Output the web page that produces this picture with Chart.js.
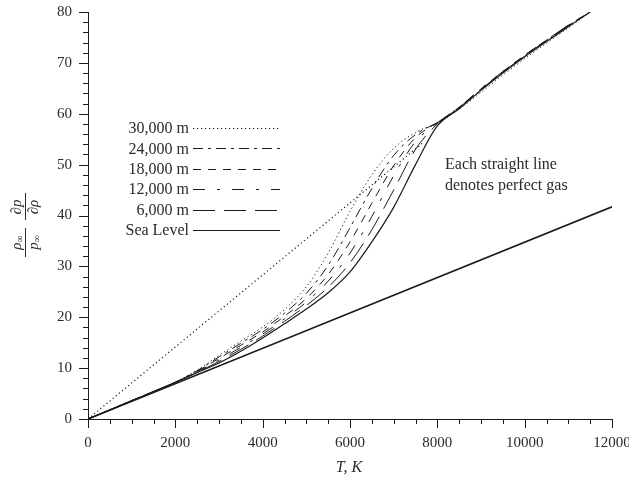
<!DOCTYPE html>
<html>
<head>
<meta charset="utf-8">
<script src="https://cdn.jsdelivr.net/npm/chart.js@4.4.1/dist/chart.umd.min.js"></script>
<style>
  body { margin: 0; background: #fff; }
  canvas { display: block; }
</style>
</head>
<body>
<canvas id="grafik" width="629" height="480"></canvas>
<script>
// temperatures (K) shared by the real-gas curves
const suhu = [0, 1000, 2000, 2500, 3000, 3500, 4000, 4500, 5000, 5500, 6000, 6500, 7000, 7500, 8000, 8500, 9000, 9500, 10000, 10500, 11000, 11500];

// (rho_inf / p_inf) dp/drho for each altitude
const alt30k = [0, 3.6, 7.3, 9.6, 12.5, 15.3, 18.1, 21.5, 26.0, 32.6, 40.8, 48.0, 53.2, 56.3, 58.2, 60.9, 64.2, 67.6, 70.8, 73.9, 76.9, 80.0];
const alt24k = [0, 3.6, 7.2, 9.5, 12.2, 14.9, 17.6, 20.8, 24.7, 30.2, 37.6, 45.3, 51.8, 55.9, 58.3, 61.2, 64.7, 68.1, 71.3, 74.3, 77.3, 80.0];
const alt18k = [0, 3.6, 7.2, 9.4, 11.9, 14.5, 17.1, 20.2, 23.7, 28.4, 34.8, 42.4, 49.8, 55.3, 58.3, 61.3, 64.9, 68.3, 71.5, 74.5, 77.4, 80.0];
const alt12k = [0, 3.6, 7.2, 9.3, 11.6, 14.1, 16.7, 19.7, 23.0, 27.1, 32.6, 39.8, 47.8, 54.5, 58.2, 61.3, 64.9, 68.3, 71.5, 74.5, 77.4, 80.0];
const alt6k  = [0, 3.6, 7.2, 9.2, 11.3, 13.7, 16.3, 19.2, 22.3, 25.9, 30.7, 37.2, 45.0, 53.0, 58.0, 61.2, 64.8, 68.2, 71.4, 74.4, 77.3, 80.0];
const seaLevel = [0, 3.6, 7.2, 9.1, 11.0, 13.3, 15.9, 18.7, 21.6, 24.8, 28.9, 34.8, 41.6, 50.0, 57.6, 61.0, 64.6, 68.0, 71.2, 74.2, 77.1, 80.0];

// straight perfect-gas lines
const gasIdealTinggiT = [0, 7700];
const gasIdealTinggiV = [0, 54.5];
const gasIdealLautT = [0, 12000];
const gasIdealLautV = [0, 41.7];

const labelKurva = ['30,000 m', '24,000 m', '18,000 m', '12,000 m', '6,000 m', 'Sea Level'];
const xTicks = [0, 2000, 4000, 6000, 8000, 10000, 12000];
const yTicks = [0, 10, 20, 30, 40, 50, 60, 70, 80];

const HITAM = '#1a1a1a';
const TEKS = '#2b2b2b';
const SERIF = '"Liberation Serif", "DejaVu Serif", serif';

function titik(xs, ys) {
    return xs.map((x, i) => ({ x: x, y: ys[i] }));
}

function kurva(label, ys, dash, lebar) {
    return {
        label: label,
        data: titik(suhu, ys),
        borderColor: HITAM,
        borderWidth: lebar || 1,
        borderDash: dash,
        pointRadius: 0,
        fill: false,
        cubicInterpolationMode: 'monotone',
        tampilLegenda: true
    };
}

const datasets = [
    kurva(labelKurva[0], alt30k, [1.2, 2.8]),
    kurva(labelKurva[1], alt24k, [10, 5, 3, 5]),
    kurva(labelKurva[2], alt18k, [8, 7]),
    kurva(labelKurva[3], alt12k, [12, 12, 3, 12]),
    kurva(labelKurva[4], alt6k, [22, 9]),
    kurva(labelKurva[5], seaLevel, [], 1.2),
    {
        label: 'ideal tinggi',
        data: titik(gasIdealTinggiT, gasIdealTinggiV),
        borderColor: HITAM, borderWidth: 1.2, borderDash: [1.2, 2.8],
        pointRadius: 0, fill: false, tension: 0
    },
    {
        label: 'ideal laut',
        data: titik(gasIdealLautT, gasIdealLautV),
        borderColor: HITAM, borderWidth: 1.6, borderDash: [],
        pointRadius: 0, fill: false, tension: 0
    }
];

// tick marks: long ones at labelled values, short minor ones between
const pluginTick = {
    id: 'tickManual',
    afterDraw(chart) {
        const ctx = chart.ctx;
        const sx = chart.scales.x, sy = chart.scales.y;
        const a = chart.chartArea;
        ctx.save();
        ctx.strokeStyle = HITAM;
        ctx.lineWidth = 1;
        ctx.beginPath();
        for (let v = 0; v <= 12000; v += 500) {
            const px = Math.round(sx.getPixelForValue(v)) + 0.5;
            const len = v % 2000 === 0 ? 9 : 5;
            ctx.moveTo(px, a.bottom);
            ctx.lineTo(px, a.bottom + len);
        }
        for (let v = 0; v <= 80; v += 2) {
            const py = Math.round(sy.getPixelForValue(v)) + 0.5;
            const len = v % 10 === 0 ? 9 : 5;
            ctx.moveTo(a.left, py);
            ctx.lineTo(a.left - len, py);
        }
        ctx.stroke();
        ctx.restore();
    }
};

// legend: label on the left, line sample on the right
const pluginLegenda = {
    id: 'legendaKiri',
    afterDraw(chart) {
        const ctx = chart.ctx;
        const items = chart.data.datasets.filter(d => d.tampilLegenda);
        ctx.save();
        ctx.font = '16px ' + SERIF;
        ctx.fillStyle = TEKS;
        ctx.textAlign = 'right';
        ctx.textBaseline = 'middle';
        items.forEach((d, i) => {
            const y = 128 + i * 20.4;
            ctx.fillText(d.label, 189, y + 1);
            ctx.strokeStyle = HITAM;
            ctx.lineWidth = d.borderWidth;
            ctx.setLineDash(d.borderDash);
            ctx.beginPath();
            ctx.moveTo(193, Math.round(y) + 0.5);
            ctx.lineTo(280, Math.round(y) + 0.5);
            ctx.stroke();
        });
        ctx.setLineDash([]);

        // note
        ctx.textAlign = 'left';
        ctx.fillText('Each straight line', 445, 165);
        ctx.fillText('denotes perfect gas', 445, 186);

        // x axis title
        ctx.textAlign = 'center';
        ctx.font = 'italic 16px ' + SERIF;
        ctx.fillText('T, K', 349, 468);

        // y axis title: (rho_inf / p_inf)(dp / drho), rotated
        ctx.translate(25, 225);
        ctx.rotate(-Math.PI / 2);
        ctx.strokeStyle = TEKS;
        ctx.lineWidth = 1;
        ctx.beginPath();
        ctx.moveTo(-32, 0.5); ctx.lineTo(-3, 0.5);
        ctx.moveTo(5, 0.5); ctx.lineTo(32, 0.5);
        ctx.stroke();

        function simbol(utama, sub, cx, cy) {
            ctx.font = 'italic 15px ' + SERIF;
            const w1 = ctx.measureText(utama).width;
            ctx.font = '10px ' + SERIF;
            const w2 = sub ? ctx.measureText(sub).width : 0;
            const x0 = cx - (w1 + w2) / 2;
            ctx.textAlign = 'left';
            ctx.font = 'italic 15px ' + SERIF;
            ctx.fillText(utama, x0, cy);
            if (sub) {
                ctx.font = '10px ' + SERIF;
                ctx.fillText(sub, x0 + w1, cy + 3);
            }
        }
        simbol('\u03c1', '\u221e', -17.5, -8);
        simbol('p', '\u221e', -17.5, 9);
        simbol('\u2202p', '', 18, -8);
        simbol('\u2202\u03c1', '', 18, 9);
        ctx.restore();
    }
};

Chart.defaults.font.family = SERIF;
Chart.defaults.font.size = 15;
Chart.defaults.color = TEKS;

new Chart(document.getElementById('grafik').getContext('2d'), {
    type: 'line',
    data: { datasets: datasets },
    options: {
        responsive: false,
        animation: false,
        layout: { padding: { left: 0, right: 17, top: 12, bottom: 0 } },
        plugins: { legend: { display: false }, tooltip: { enabled: false } },
        scales: {
            x: {
                type: 'linear',
                min: 0, max: 12000,
                afterBuildTicks: s => { s.ticks = xTicks.map(v => ({ value: v })); },
                afterFit: s => { s.height = 61; s.paddingLeft = 0; s.paddingRight = 0; },
                grid: { display: false, drawTicks: false },
                border: { display: true, color: HITAM, width: 1 },
                ticks: { padding: 15, maxRotation: 0, autoSkip: false, color: TEKS, font: { size: 15 },
                         callback: v => String(v) }
            },
            y: {
                type: 'linear',
                min: 0, max: 80,
                afterBuildTicks: s => { s.ticks = yTicks.map(v => ({ value: v })); },
                afterFit: s => { s.width = 88; s.paddingTop = 0; s.paddingBottom = 0; },
                grid: { display: false, drawTicks: false },
                border: { display: true, color: HITAM, width: 1 },
                ticks: { padding: 16, color: TEKS, font: { size: 15 }, callback: v => String(v) }
            }
        }
    },
    plugins: [pluginTick, pluginLegenda]
});
</script>
</body>
</html>
